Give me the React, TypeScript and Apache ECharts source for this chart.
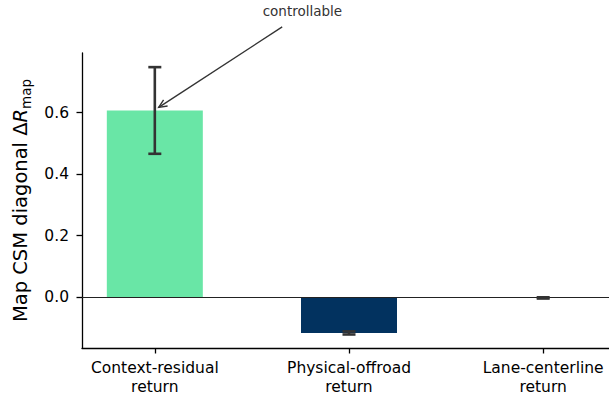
import React, { useEffect, useRef } from "react";
import * as echarts from "echarts";

// Bar chart of the diagonal CSM change per reward component, with error bars
const categories = ["Context-residual\nreturn", "Physical-offroad\nreturn", "Lane-centerline\nreturn"];
const values = [0.607, -0.117, -0.003];
const errors = [0.141, 0.005, 0.002];
const barColors = ["#69E6A6", "#02325F"];
const yTicks = [0.0, 0.2, 0.4, 0.6];

// Annotation: label position, arrow tail and arrow tip in data units
const noteText = "controllable";
const notePos = [0.76, 0.93];
const arrowTail = [0.656, 0.879];
const arrowTip = [0.02, 0.617];

const FONT = "DejaVu Sans";

export default function App() {
  const ref = useRef<HTMLDivElement>(null);

  useEffect(() => {
    if (!ref.current) return;
    const chart = echarts.init(ref.current, null, { renderer: "svg" });
    const xIdx = categories.map((_, i) => i);

    chart.setOption({
      animation: false,
      textStyle: { fontFamily: FONT },
      grid: {
        left: 82,
        right: -7,
        top: 53,
        bottom: 48,
        containLabel: false,
        outerBoundsMode: "none",
      },
      xAxis: {
        type: "value",
        min: -0.375,
        max: 2.375,
        splitLine: { show: false },
        axisLine: { onZero: false, lineStyle: { color: "#000", width: 1.3 } },
        axisTick: {
          show: true,
          length: 5.5,
          customValues: xIdx,
          lineStyle: { color: "#000", width: 1.3 },
        },
        axisLabel: {
          customValues: xIdx,
          formatter: (v: number) => categories[Math.round(v)] ?? "",
          color: "#000",
          fontSize: 15.5,
          lineHeight: 18.5,
          margin: 11,
          fontFamily: FONT,
        },
      },
      yAxis: {
        type: "value",
        min: -0.166,
        max: 0.794,
        splitLine: { show: false },
        axisLine: { show: true, onZero: false, lineStyle: { color: "#000", width: 1.3 } },
        axisTick: {
          show: true,
          length: 5.5,
          customValues: yTicks,
          lineStyle: { color: "#000", width: 1.3 },
        },
        axisLabel: {
          customValues: yTicks,
          formatter: (v: number) => v.toFixed(1),
          color: "#000",
          fontSize: 15.5,
          margin: 13,
          fontFamily: FONT,
        },
        name: "{a|Map CSM diagonal Δ}{r|R}{s|map}",
        nameLocation: "middle",
        nameRotate: 90,
        nameGap: 47,
        nameTextStyle: {
          rich: {
            a: { fontSize: 19.5, fontFamily: FONT, color: "#000", lineHeight: 24, verticalAlign: "top" },
            r: { fontSize: 19.5, fontFamily: FONT, fontStyle: "italic", color: "#000", lineHeight: 24, verticalAlign: "top" },
            s: { fontSize: 13.5, fontFamily: FONT, color: "#000", lineHeight: 16, padding: [9, 0, 0, 0], verticalAlign: "top" },
          },
        },
      },
      series: [
        {
          type: "bar",
          barWidth: 96,
          data: values.map((v, i) => ({
            value: [i, v],
            itemStyle: { color: barColors[i % barColors.length] },
          })),
          markLine: {
            silent: true,
            symbol: "none",
            label: { show: false },
            lineStyle: { color: "#222", width: 1.2, type: "solid" },
            data: [{ yAxis: 0 }],
          },
        },
        {
          type: "custom",
          data: values.map((v, i) => [i, v, errors[i]]),
          renderItem: (params: any, api: any) => {
            const x = api.value(0);
            const y = api.value(1);
            const e = api.value(2);
            const top = api.coord([x, y + e]);
            const bot = api.coord([x, y - e]);
            const cap = 6.5;
            const style = { stroke: "#333", lineWidth: 2.6 };
            return {
              type: "group",
              children: [
                { type: "line", shape: { x1: top[0], y1: top[1], x2: bot[0], y2: bot[1] }, style },
                { type: "line", shape: { x1: top[0] - cap, y1: top[1], x2: top[0] + cap, y2: top[1] }, style },
                { type: "line", shape: { x1: bot[0] - cap, y1: bot[1], x2: bot[0] + cap, y2: bot[1] }, style },
              ],
            };
          },
          z: 5,
        },
      ],
    });

    // Arrow annotation placed through the grid's coordinate system
    const p = chart.convertToPixel({ gridIndex: 0 }, notePos) as number[];
    const t0 = chart.convertToPixel({ gridIndex: 0 }, arrowTail) as number[];
    const t1 = chart.convertToPixel({ gridIndex: 0 }, arrowTip) as number[];
    const ang = Math.atan2(t1[1] - t0[1], t1[0] - t0[0]);
    const hl = 9;
    const hw = 0.42;
    const h1 = [t1[0] - hl * Math.cos(ang - hw), t1[1] - hl * Math.sin(ang - hw)];
    const h2 = [t1[0] - hl * Math.cos(ang + hw), t1[1] - hl * Math.sin(ang + hw)];
    chart.setOption({
      graphic: [
        {
          type: "text",
          x: p[0],
          y: p[1],
          style: {
            text: noteText,
            fontSize: 13.5,
            fontFamily: FONT,
            fill: "#333",
            align: "center",
            verticalAlign: "middle",
          },
        },
        {
          type: "line",
          shape: { x1: t0[0], y1: t0[1], x2: t1[0], y2: t1[1] },
          style: { stroke: "#333", lineWidth: 1.4 },
        },
        {
          type: "polyline",
          shape: { points: [h1, t1, h2] },
          style: { stroke: "#333", lineWidth: 1.4, fill: null },
        },
      ],
    });

    return () => chart.dispose();
  }, []);

  return <div ref={ref} style={{ width: 609, height: 396, position: "absolute", left: 0, top: 0 }} />;
}
